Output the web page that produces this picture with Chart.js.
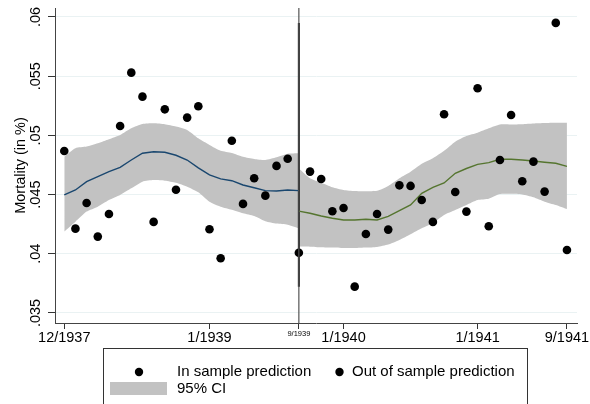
<!DOCTYPE html>
<html>
<head>
<meta charset="utf-8">
<script src="https://cdn.jsdelivr.net/npm/chart.js@4.4.1/dist/chart.umd.min.js"></script>
<style>
  html, body { margin: 0; padding: 0; background: #fff; }
  #wrap { position: relative; width: 590px; height: 404px; }
</style>
</head>
<body>
<div id="wrap"><canvas id="c" width="590" height="404"></canvas></div>
<script>
// ---------- DATA ----------
const dates = ["12/1937","1/1938","2/1938","3/1938","4/1938","5/1938","6/1938","7/1938","8/1938","9/1938","10/1938","11/1938",
  "12/1938","1/1939","2/1939","3/1939","4/1939","5/1939","6/1939","7/1939","8/1939","9/1939",
  "10/1939","11/1939","12/1939","1/1940","2/1940","3/1940","4/1940","5/1940","6/1940","7/1940","8/1940","9/1940","10/1940","11/1940",
  "12/1940","1/1941","2/1941","3/1941","4/1941","5/1941","6/1941","7/1941","8/1941","9/1941"];

// observed mortality (black dots), one per month
const mortality = [0.04868,0.04212,0.04429,0.04145,0.04336,0.05079,0.0553,0.05327,0.04269,0.0522,0.04541,0.0515,
  0.05246,0.04207,0.03962,0.04955,0.04421,0.04638,0.04491,0.04742,0.04803,0.04009,
  0.04694,0.04632,0.04359,0.04387,0.03722,0.04167,0.04336,0.04204,0.04578,0.04573,0.04454,0.04269,0.05178,0.04522,
  0.04356,0.05398,0.04232,0.04792,0.05172,0.04612,0.04778,0.04525,0.0595,0.04032];

const splitDate = "9/1939";   // end of estimation sample

// in-sample prediction, 12/1937 .. 9/1939
const inFit   = [0.04497,0.04539,0.04609,0.04651,0.04693,0.0473,0.04792,0.04849,0.04862,0.04857,0.04832,0.04792,
  0.04725,0.04666,0.04632,0.04617,0.04581,0.04558,0.04533,0.0453,0.04539,0.04533];
const inUpper = [0.0482,0.04891,0.04905,0.04933,0.04967,0.05003,0.0506,0.05096,0.05102,0.05094,0.05074,0.05046,
  0.04975,0.04919,0.0487,0.04852,0.0482,0.04801,0.04792,0.04815,0.04845,0.04849];
const inLower = [0.04187,0.04271,0.04356,0.04398,0.04454,0.04497,0.04553,0.04609,0.04623,0.04617,0.046,0.04567,
  0.0452,0.0444,0.04398,0.04372,0.04342,0.04319,0.04275,0.04255,0.04245,0.04215];

// out-of-sample prediction, 9/1939 .. 9/1941
const outFit   = [0.0436,0.04342,0.04319,0.043,0.04285,0.04285,0.04291,0.04285,0.04315,0.04364,0.04412,0.0451,0.0456,
  0.04598,0.0468,0.0472,0.04755,0.0477,0.04798,0.04798,0.04792,0.04784,0.04773,0.04764,0.04738];
const outUpper = [0.0472,0.04638,0.04600,0.04562,0.04539,0.0453,0.04528,0.04532,0.04573,0.04638,0.04693,0.0476,0.04807,
  0.0487,0.04947,0.04995,0.05023,0.0506,0.05092,0.05092,0.05094,0.05100,0.05104,0.05106,0.05106];
const outLower = [0.0406,0.0406,0.04055,0.04052,0.04048,0.04048,0.04052,0.04058,0.04078,0.04117,0.04165,0.04215,0.0426,
  0.04328,0.0437,0.04412,0.04454,0.04465,0.04505,0.04506,0.04500,0.04477,0.0444,0.04412,0.04378];

const tickLabels = ["12/1937","1/1939","9/1939","1/1940","1/1941","9/1941"];
const yTickValues = [0.035,0.04,0.045,0.05,0.055,0.06];
const yTickLabels = [".035",".04",".045",".05",".055",".06"];

// ---------- BUILD ----------
const splitIdx = dates.indexOf(splitDate);
const pts = (arr, offset) => arr.map((v, i) => ({ x: offset + i, y: v }));
const inDots  = mortality.slice(0, splitIdx + 1).map((v, i) => ({ x: i, y: v }));
const outDots = mortality.slice(splitIdx + 1).map((v, i) => ({ x: splitIdx + 1 + i, y: v }));
const vLine = [{ x: splitIdx, y: Math.min(...mortality) }, { x: splitIdx, y: Math.max(...mortality) }];

const FONT = "'Liberation Sans', Arial, Helvetica, sans-serif";
const BAND = '#c2c2c2';
const BLUE = '#1a476f';
const GREEN = '#55752f';

const bigTick = { family: FONT, size: 14.5 };
const smallTick = { family: FONT, size: 7.5 };

const overlay = {
  id: 'overlay',
  afterDatasetsDraw(chart) {
    // thin full-height reference line at split date
    const { ctx, chartArea, scales } = chart;
    const x = scales.x.getPixelForValue(splitIdx);
    ctx.save();
    ctx.strokeStyle = '#555';
    ctx.lineWidth = 1.2;
    ctx.beginPath();
    ctx.moveTo(x, chartArea.top);
    ctx.lineTo(x, chartArea.bottom);
    ctx.stroke();
    ctx.restore();
  },
  afterDraw(chart) {
    const { ctx, scales } = chart;
    ctx.save();
    // rotated y tick labels
    ctx.fillStyle = '#000';
    ctx.font = `14.5px ${FONT}`;
    ctx.textAlign = 'center';
    ctx.textBaseline = 'middle';
    yTickValues.forEach((v, i) => {
      const y = scales.y.getPixelForValue(v);
      ctx.save();
      ctx.translate(36, y);
      ctx.rotate(-Math.PI / 2);
      ctx.fillText(yTickLabels[i], 0, 0);
      ctx.restore();
    });

    // legend box
    ctx.strokeStyle = '#333';
    ctx.lineWidth = 1;
    ctx.strokeRect(103.5, 348.5, 424, 70);
    const ds = chart.data.datasets;
    ctx.font = `15px ${FONT}`;
    ctx.textAlign = 'left';
    ctx.textBaseline = 'middle';
    ctx.fillStyle = '#000';
    // row 1
    ctx.beginPath(); ctx.arc(139, 372, 4.2, 0, Math.PI * 2); ctx.fill();
    ctx.fillText(ds[0].label, 177, 372);
    ctx.beginPath(); ctx.arc(339.5, 372, 4.2, 0, Math.PI * 2); ctx.fill();
    ctx.fillText(ds[1].label, 352, 372);
    // row 2
    ctx.fillStyle = BAND;
    ctx.fillRect(110, 382, 57, 13);
    ctx.fillStyle = '#000';
    ctx.fillText(ds[4].label, 177, 389);
    ctx.restore();
  }
};

new Chart(document.getElementById('c'), {
  type: 'scatter',
  data: {
    datasets: [
      { label: 'In sample prediction', data: inDots, type: 'scatter', order: 0,
        pointRadius: 4.3, pointHoverRadius: 4.3, pointBackgroundColor: '#000', pointBorderWidth: 0, showLine: false },
      { label: 'Out of sample prediction', data: outDots, type: 'scatter', order: 0,
        pointRadius: 4.3, pointHoverRadius: 4.3, pointBackgroundColor: '#000', pointBorderWidth: 0, showLine: false },
      { label: 'Fit in sample', data: pts(inFit, 0), type: 'line', order: 1,
        borderColor: BLUE, borderWidth: 1.4, pointRadius: 0, fill: false, tension: 0 },
      { label: 'Fit out of sample', data: pts(outFit, splitIdx), type: 'line', order: 1,
        borderColor: GREEN, borderWidth: 1.4, pointRadius: 0, fill: false, tension: 0 },
      { label: '95% CI', data: pts(inUpper, 0), type: 'line', order: 3,
        borderWidth: 0, pointRadius: 0, backgroundColor: BAND, fill: '+1', tension: 0.2 },
      { label: 'CI lower in', data: pts(inLower, 0), type: 'line', order: 3,
        borderWidth: 0, pointRadius: 0, fill: false, tension: 0.2 },
      { label: 'CI upper out', data: pts(outUpper, splitIdx), type: 'line', order: 3,
        borderWidth: 0, pointRadius: 0, backgroundColor: BAND, fill: '+1', tension: 0.2 },
      { label: 'CI lower out', data: pts(outLower, splitIdx), type: 'line', order: 3,
        borderWidth: 0, pointRadius: 0, fill: false, tension: 0.2 },
      { label: 'split', data: vLine, type: 'line', order: 2,
        borderColor: '#111', borderWidth: 2, pointRadius: 0, fill: false }
    ]
  },
  options: {
    responsive: false,
    animation: false,
    events: [],
    layout: { padding: { left: 0, right: 13, top: 8, bottom: 0 } },
    plugins: { legend: { display: false }, tooltip: { enabled: false } },
    scales: {
      x: {
        type: 'linear',
        min: -0.83, max: 45.9,
        afterBuildTicks(scale) { scale.ticks = tickLabels.map(l => ({ value: dates.indexOf(l) })); },
        afterFit(scale) { scale.height = 81; },
        grid: { drawOnChartArea: false, drawTicks: true, tickLength: 6, tickColor: '#333', tickWidth: 1 },
        border: { display: true, color: '#444', width: 1 },
        ticks: {
          autoSkip: false, maxRotation: 0, minRotation: 0, padding: 0, color: '#000',
          callback: (v) => dates[v],
          font: (ctx) => (ctx.tick && ctx.tick.value === splitIdx) ? smallTick : bigTick
        }
      },
      y: {
        type: 'linear',
        min: 0.03415, max: 0.06076,
        afterBuildTicks(scale) { scale.ticks = yTickValues.map(v => ({ value: v })); },
        afterFit(scale) { scale.width = 55; },
        grid: { color: '#eaf2f3', lineWidth: 1, drawTicks: true, tickLength: 7, tickColor: '#333', tickWidth: 1 },
        border: { display: true, color: '#444', width: 1 },
        ticks: { display: false },
        title: { display: true, text: 'Mortality (in %)', color: '#000',
          font: { family: FONT, size: 14.5 }, padding: { top: 12, bottom: 0 } }
      }
    }
  },
  plugins: [overlay]
});
</script>
</body>
</html>
